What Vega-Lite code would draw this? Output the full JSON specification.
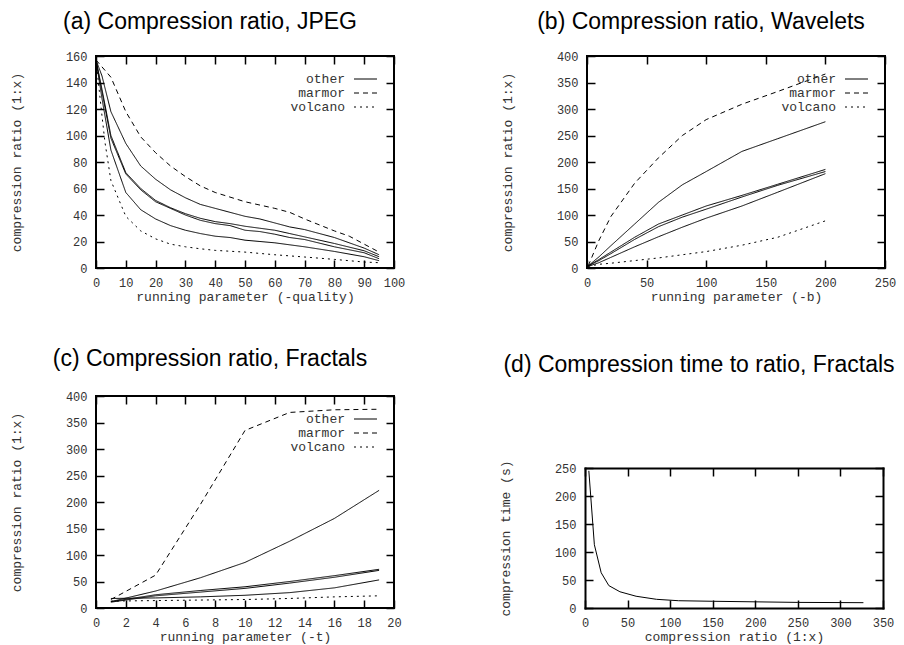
{
  "$schema": "https://vega.github.io/schema/vega-lite/v6.json",
  "background": "white",
  "padding": {"left": 9, "top": 10, "right": 0, "bottom": 0},
  "datasets": {
    "jpeg": [
      {"series": "m", "type": "marmor", "x": 0, "y": 157}, {"series": "m", "type": "marmor", "x": 5, "y": 144}, {"series": "m", "type": "marmor", "x": 10, "y": 118}, {"series": "m", "type": "marmor", "x": 15, "y": 99}, {"series": "m", "type": "marmor", "x": 20, "y": 87}, {"series": "m", "type": "marmor", "x": 25, "y": 77}, {"series": "m", "type": "marmor", "x": 30, "y": 69}, {"series": "m", "type": "marmor", "x": 35, "y": 62}, {"series": "m", "type": "marmor", "x": 40, "y": 57}, {"series": "m", "type": "marmor", "x": 50, "y": 50}, {"series": "m", "type": "marmor", "x": 60, "y": 45}, {"series": "m", "type": "marmor", "x": 65, "y": 42}, {"series": "m", "type": "marmor", "x": 70, "y": 37}, {"series": "m", "type": "marmor", "x": 80, "y": 28}, {"series": "m", "type": "marmor", "x": 85, "y": 24}, {"series": "m", "type": "marmor", "x": 90, "y": 18}, {"series": "m", "type": "marmor", "x": 95, "y": 12},
      {"series": "o1", "type": "other", "x": 0, "y": 157}, {"series": "o1", "type": "other", "x": 2, "y": 145}, {"series": "o1", "type": "other", "x": 5, "y": 118}, {"series": "o1", "type": "other", "x": 10, "y": 94}, {"series": "o1", "type": "other", "x": 15, "y": 77}, {"series": "o1", "type": "other", "x": 20, "y": 67}, {"series": "o1", "type": "other", "x": 25, "y": 59}, {"series": "o1", "type": "other", "x": 30, "y": 53}, {"series": "o1", "type": "other", "x": 35, "y": 48}, {"series": "o1", "type": "other", "x": 40, "y": 45}, {"series": "o1", "type": "other", "x": 50, "y": 39}, {"series": "o1", "type": "other", "x": 55, "y": 37}, {"series": "o1", "type": "other", "x": 60, "y": 34}, {"series": "o1", "type": "other", "x": 65, "y": 31}, {"series": "o1", "type": "other", "x": 70, "y": 29}, {"series": "o1", "type": "other", "x": 80, "y": 23}, {"series": "o1", "type": "other", "x": 90, "y": 15}, {"series": "o1", "type": "other", "x": 95, "y": 10},
      {"series": "o2", "type": "other", "x": 0, "y": 157}, {"series": "o2", "type": "other", "x": 2, "y": 135}, {"series": "o2", "type": "other", "x": 5, "y": 100}, {"series": "o2", "type": "other", "x": 10, "y": 72}, {"series": "o2", "type": "other", "x": 15, "y": 60}, {"series": "o2", "type": "other", "x": 20, "y": 51}, {"series": "o2", "type": "other", "x": 25, "y": 45.5}, {"series": "o2", "type": "other", "x": 30, "y": 41}, {"series": "o2", "type": "other", "x": 35, "y": 37.5}, {"series": "o2", "type": "other", "x": 40, "y": 35}, {"series": "o2", "type": "other", "x": 45, "y": 33.5}, {"series": "o2", "type": "other", "x": 50, "y": 31.5}, {"series": "o2", "type": "other", "x": 55, "y": 30}, {"series": "o2", "type": "other", "x": 60, "y": 28.5}, {"series": "o2", "type": "other", "x": 65, "y": 26}, {"series": "o2", "type": "other", "x": 70, "y": 23.5}, {"series": "o2", "type": "other", "x": 80, "y": 18.5}, {"series": "o2", "type": "other", "x": 90, "y": 13}, {"series": "o2", "type": "other", "x": 95, "y": 8.5},
      {"series": "o3", "type": "other", "x": 0, "y": 157}, {"series": "o3", "type": "other", "x": 2, "y": 133}, {"series": "o3", "type": "other", "x": 5, "y": 98}, {"series": "o3", "type": "other", "x": 10, "y": 71}, {"series": "o3", "type": "other", "x": 15, "y": 59}, {"series": "o3", "type": "other", "x": 20, "y": 50}, {"series": "o3", "type": "other", "x": 25, "y": 45}, {"series": "o3", "type": "other", "x": 30, "y": 40}, {"series": "o3", "type": "other", "x": 35, "y": 36}, {"series": "o3", "type": "other", "x": 40, "y": 33.5}, {"series": "o3", "type": "other", "x": 45, "y": 32}, {"series": "o3", "type": "other", "x": 50, "y": 28.5}, {"series": "o3", "type": "other", "x": 55, "y": 27.5}, {"series": "o3", "type": "other", "x": 60, "y": 25.5}, {"series": "o3", "type": "other", "x": 65, "y": 23}, {"series": "o3", "type": "other", "x": 70, "y": 21.5}, {"series": "o3", "type": "other", "x": 80, "y": 16}, {"series": "o3", "type": "other", "x": 90, "y": 11.5}, {"series": "o3", "type": "other", "x": 95, "y": 7},
      {"series": "o4", "type": "other", "x": 0, "y": 157}, {"series": "o4", "type": "other", "x": 2, "y": 128}, {"series": "o4", "type": "other", "x": 5, "y": 89}, {"series": "o4", "type": "other", "x": 10, "y": 57}, {"series": "o4", "type": "other", "x": 15, "y": 44}, {"series": "o4", "type": "other", "x": 20, "y": 37}, {"series": "o4", "type": "other", "x": 25, "y": 32}, {"series": "o4", "type": "other", "x": 30, "y": 28.5}, {"series": "o4", "type": "other", "x": 35, "y": 26}, {"series": "o4", "type": "other", "x": 40, "y": 24}, {"series": "o4", "type": "other", "x": 45, "y": 23}, {"series": "o4", "type": "other", "x": 50, "y": 21}, {"series": "o4", "type": "other", "x": 55, "y": 20}, {"series": "o4", "type": "other", "x": 60, "y": 19}, {"series": "o4", "type": "other", "x": 65, "y": 17.5}, {"series": "o4", "type": "other", "x": 70, "y": 16}, {"series": "o4", "type": "other", "x": 80, "y": 12.5}, {"series": "o4", "type": "other", "x": 90, "y": 8.5}, {"series": "o4", "type": "other", "x": 95, "y": 5.5},
      {"series": "v", "type": "volcano", "x": 0, "y": 157}, {"series": "v", "type": "volcano", "x": 2, "y": 115}, {"series": "v", "type": "volcano", "x": 3, "y": 95}, {"series": "v", "type": "volcano", "x": 5, "y": 66}, {"series": "v", "type": "volcano", "x": 10, "y": 39}, {"series": "v", "type": "volcano", "x": 15, "y": 28}, {"series": "v", "type": "volcano", "x": 20, "y": 22}, {"series": "v", "type": "volcano", "x": 25, "y": 18}, {"series": "v", "type": "volcano", "x": 30, "y": 16}, {"series": "v", "type": "volcano", "x": 35, "y": 14.5}, {"series": "v", "type": "volcano", "x": 40, "y": 13.3}, {"series": "v", "type": "volcano", "x": 50, "y": 12}, {"series": "v", "type": "volcano", "x": 60, "y": 10}, {"series": "v", "type": "volcano", "x": 70, "y": 8.3}, {"series": "v", "type": "volcano", "x": 80, "y": 6.5}, {"series": "v", "type": "volcano", "x": 90, "y": 4.5}, {"series": "v", "type": "volcano", "x": 95, "y": 4}
    ],
    "wavelets": [
      {"series": "m", "type": "marmor", "x": 1, "y": 4}, {"series": "m", "type": "marmor", "x": 10, "y": 52}, {"series": "m", "type": "marmor", "x": 20, "y": 97}, {"series": "m", "type": "marmor", "x": 40, "y": 160}, {"series": "m", "type": "marmor", "x": 60, "y": 208}, {"series": "m", "type": "marmor", "x": 80, "y": 250}, {"series": "m", "type": "marmor", "x": 100, "y": 280}, {"series": "m", "type": "marmor", "x": 130, "y": 309}, {"series": "m", "type": "marmor", "x": 160, "y": 333}, {"series": "m", "type": "marmor", "x": 200, "y": 366},
      {"series": "o1", "type": "other", "x": 1, "y": 4}, {"series": "o1", "type": "other", "x": 10, "y": 21}, {"series": "o1", "type": "other", "x": 20, "y": 42}, {"series": "o1", "type": "other", "x": 40, "y": 83}, {"series": "o1", "type": "other", "x": 60, "y": 124}, {"series": "o1", "type": "other", "x": 80, "y": 157}, {"series": "o1", "type": "other", "x": 100, "y": 182}, {"series": "o1", "type": "other", "x": 130, "y": 220}, {"series": "o1", "type": "other", "x": 160, "y": 244}, {"series": "o1", "type": "other", "x": 200, "y": 276},
      {"series": "o2", "type": "other", "x": 1, "y": 4}, {"series": "o2", "type": "other", "x": 10, "y": 16}, {"series": "o2", "type": "other", "x": 20, "y": 30}, {"series": "o2", "type": "other", "x": 40, "y": 58}, {"series": "o2", "type": "other", "x": 60, "y": 83}, {"series": "o2", "type": "other", "x": 80, "y": 100}, {"series": "o2", "type": "other", "x": 100, "y": 117}, {"series": "o2", "type": "other", "x": 130, "y": 137}, {"series": "o2", "type": "other", "x": 160, "y": 158}, {"series": "o2", "type": "other", "x": 200, "y": 186},
      {"series": "o3", "type": "other", "x": 1, "y": 4}, {"series": "o3", "type": "other", "x": 10, "y": 14}, {"series": "o3", "type": "other", "x": 20, "y": 27}, {"series": "o3", "type": "other", "x": 40, "y": 54}, {"series": "o3", "type": "other", "x": 60, "y": 78}, {"series": "o3", "type": "other", "x": 80, "y": 96}, {"series": "o3", "type": "other", "x": 100, "y": 111}, {"series": "o3", "type": "other", "x": 130, "y": 134}, {"series": "o3", "type": "other", "x": 160, "y": 156}, {"series": "o3", "type": "other", "x": 200, "y": 182},
      {"series": "o4", "type": "other", "x": 1, "y": 3}, {"series": "o4", "type": "other", "x": 10, "y": 10}, {"series": "o4", "type": "other", "x": 20, "y": 20}, {"series": "o4", "type": "other", "x": 40, "y": 40}, {"series": "o4", "type": "other", "x": 60, "y": 59}, {"series": "o4", "type": "other", "x": 80, "y": 77}, {"series": "o4", "type": "other", "x": 100, "y": 94}, {"series": "o4", "type": "other", "x": 130, "y": 117}, {"series": "o4", "type": "other", "x": 160, "y": 143}, {"series": "o4", "type": "other", "x": 200, "y": 178},
      {"series": "v", "type": "volcano", "x": 1, "y": 3}, {"series": "v", "type": "volcano", "x": 10, "y": 7}, {"series": "v", "type": "volcano", "x": 20, "y": 9}, {"series": "v", "type": "volcano", "x": 40, "y": 14}, {"series": "v", "type": "volcano", "x": 60, "y": 19}, {"series": "v", "type": "volcano", "x": 80, "y": 25}, {"series": "v", "type": "volcano", "x": 100, "y": 31}, {"series": "v", "type": "volcano", "x": 130, "y": 43}, {"series": "v", "type": "volcano", "x": 160, "y": 58}, {"series": "v", "type": "volcano", "x": 200, "y": 89}
    ],
    "fractals": [
      {"series": "m", "type": "marmor", "x": 1, "y": 16}, {"series": "m", "type": "marmor", "x": 4, "y": 62}, {"series": "m", "type": "marmor", "x": 7, "y": 195}, {"series": "m", "type": "marmor", "x": 10, "y": 335}, {"series": "m", "type": "marmor", "x": 13, "y": 369}, {"series": "m", "type": "marmor", "x": 16, "y": 374}, {"series": "m", "type": "marmor", "x": 19, "y": 375},
      {"series": "o1", "type": "other", "x": 1, "y": 12}, {"series": "o1", "type": "other", "x": 4, "y": 32}, {"series": "o1", "type": "other", "x": 7, "y": 57}, {"series": "o1", "type": "other", "x": 10, "y": 86}, {"series": "o1", "type": "other", "x": 13, "y": 126}, {"series": "o1", "type": "other", "x": 16, "y": 169}, {"series": "o1", "type": "other", "x": 19, "y": 222},
      {"series": "o2", "type": "other", "x": 1, "y": 12}, {"series": "o2", "type": "other", "x": 4, "y": 25}, {"series": "o2", "type": "other", "x": 7, "y": 33}, {"series": "o2", "type": "other", "x": 10, "y": 40}, {"series": "o2", "type": "other", "x": 13, "y": 50}, {"series": "o2", "type": "other", "x": 16, "y": 61}, {"series": "o2", "type": "other", "x": 19, "y": 73},
      {"series": "o3", "type": "other", "x": 1, "y": 11}, {"series": "o3", "type": "other", "x": 4, "y": 23}, {"series": "o3", "type": "other", "x": 7, "y": 30}, {"series": "o3", "type": "other", "x": 10, "y": 37}, {"series": "o3", "type": "other", "x": 13, "y": 47}, {"series": "o3", "type": "other", "x": 16, "y": 58}, {"series": "o3", "type": "other", "x": 19, "y": 71},
      {"series": "o4", "type": "other", "x": 1, "y": 18}, {"series": "o4", "type": "other", "x": 4, "y": 19}, {"series": "o4", "type": "other", "x": 7, "y": 21}, {"series": "o4", "type": "other", "x": 10, "y": 24}, {"series": "o4", "type": "other", "x": 13, "y": 29}, {"series": "o4", "type": "other", "x": 16, "y": 38}, {"series": "o4", "type": "other", "x": 19, "y": 53},
      {"series": "v", "type": "volcano", "x": 1, "y": 13}, {"series": "v", "type": "volcano", "x": 4, "y": 14}, {"series": "v", "type": "volcano", "x": 7, "y": 15}, {"series": "v", "type": "volcano", "x": 10, "y": 16}, {"series": "v", "type": "volcano", "x": 13, "y": 18}, {"series": "v", "type": "volcano", "x": 16, "y": 21}, {"series": "v", "type": "volcano", "x": 19, "y": 23}
    ],
    "time": [
      {"x": 4.5, "y": 245}, {"x": 11, "y": 113}, {"x": 19, "y": 63}, {"x": 28, "y": 40}, {"x": 41, "y": 29}, {"x": 60, "y": 21}, {"x": 84, "y": 15.5}, {"x": 110, "y": 13}, {"x": 150, "y": 12}, {"x": 200, "y": 11}, {"x": 250, "y": 10}, {"x": 327, "y": 9.5}
    ]
  },
  "vconcat": [
    {
      "hconcat": [
        {
          "width": 298, "height": 212,
          "title": {"text": "(a) Compression ratio, JPEG", "dx": -35, "offset": 16},
          "data": {"name": "jpeg"},
          "layer": [
            {
              "mark": {"type": "line", "color": "black", "strokeWidth": 1},
              "encoding": {
                "x": {"field": "x", "type": "quantitative", "scale": {"domain": [0, 100], "nice": false}, "axis": {"values": [0, 10, 20, 30, 40, 50, 60, 70, 80, 90, 100], "title": "running parameter (-quality)"}},
                "y": {"field": "y", "type": "quantitative", "scale": {"domain": [0, 160], "nice": false}, "axis": {"values": [0, 20, 40, 60, 80, 100, 120, 140, 160], "title": "compression ratio (1:x)"}},
                "detail": {"field": "series"},
                "strokeDash": {"field": "type", "type": "nominal", "scale": {"domain": ["other", "marmor", "volcano"], "range": [[1, 0], [5, 4], [2, 4]]}, "legend": {"legendX": 263, "legendY": 16.5, "title": null}}
              }
            },
            {
              "mark": {"type": "line", "opacity": 0},
              "encoding": {
                "x": {"field": "x", "type": "quantitative", "axis": {"orient": "top", "labels": false, "title": null, "values": [0, 10, 20, 30, 40, 50, 60, 70, 80, 90, 100]}},
                "y": {"field": "y", "type": "quantitative", "axis": {"orient": "right", "labels": false, "title": null, "values": [0, 20, 40, 60, 80, 100, 120, 140, 160]}},
                "detail": {"field": "series"}
              }
            }
          ],
          "resolve": {"axis": {"x": "independent", "y": "independent"}}
        },
        {
          "width": 298, "height": 212,
          "title": {"text": "(b) Compression ratio, Wavelets", "dx": -35, "offset": 16},
          "data": {"name": "wavelets"},
          "layer": [
            {
              "mark": {"type": "line", "color": "black", "strokeWidth": 1},
              "encoding": {
                "x": {"field": "x", "type": "quantitative", "scale": {"domain": [0, 250], "nice": false}, "axis": {"values": [0, 50, 100, 150, 200, 250], "title": "running parameter (-b)"}},
                "y": {"field": "y", "type": "quantitative", "scale": {"domain": [0, 400], "nice": false}, "axis": {"values": [0, 50, 100, 150, 200, 250, 300, 350, 400], "title": "compression ratio (1:x)"}},
                "detail": {"field": "series"},
                "strokeDash": {"field": "type", "type": "nominal", "scale": {"domain": ["other", "marmor", "volcano"], "range": [[1, 0], [5, 4], [2, 4]]}, "legend": {"legendX": 263, "legendY": 16.5, "title": null}}
              }
            },
            {
              "mark": {"type": "line", "opacity": 0},
              "encoding": {
                "x": {"field": "x", "type": "quantitative", "axis": {"orient": "top", "labels": false, "title": null, "values": [0, 50, 100, 150, 200, 250]}},
                "y": {"field": "y", "type": "quantitative", "axis": {"orient": "right", "labels": false, "title": null, "values": [0, 50, 100, 150, 200, 250, 300, 350, 400]}},
                "detail": {"field": "series"}
              }
            }
          ],
          "resolve": {"axis": {"x": "independent", "y": "independent"}}
        }
      ],
      "spacing": 94,
      "resolve": {"scale": {"strokeDash": "independent"}, "legend": {"strokeDash": "independent"}}
    },
    {
      "hconcat": [
        {
          "width": 298, "height": 212,
          "title": {"text": "(c) Compression ratio, Fractals", "dx": -35, "offset": 19},
          "data": {"name": "fractals"},
          "layer": [
            {
              "mark": {"type": "line", "color": "black", "strokeWidth": 1},
              "encoding": {
                "x": {"field": "x", "type": "quantitative", "scale": {"domain": [0, 20], "nice": false}, "axis": {"values": [0, 2, 4, 6, 8, 10, 12, 14, 16, 18, 20], "title": "running parameter (-t)"}},
                "y": {"field": "y", "type": "quantitative", "scale": {"domain": [0, 400], "nice": false}, "axis": {"values": [0, 50, 100, 150, 200, 250, 300, 350, 400], "title": "compression ratio (1:x)"}},
                "detail": {"field": "series"},
                "strokeDash": {"field": "type", "type": "nominal", "scale": {"domain": ["other", "marmor", "volcano"], "range": [[1, 0], [5, 4], [2, 4]]}, "legend": {"legendX": 263, "legendY": 16.5, "title": null}}
              }
            },
            {
              "mark": {"type": "line", "opacity": 0},
              "encoding": {
                "x": {"field": "x", "type": "quantitative", "axis": {"orient": "top", "labels": false, "title": null, "values": [0, 2, 4, 6, 8, 10, 12, 14, 16, 18, 20]}},
                "y": {"field": "y", "type": "quantitative", "axis": {"orient": "right", "labels": false, "title": null, "values": [0, 50, 100, 150, 200, 250, 300, 350, 400]}},
                "detail": {"field": "series"}
              }
            }
          ],
          "resolve": {"axis": {"x": "independent", "y": "independent"}}
        },
        {
          "width": 298, "height": 212,
          "view": {"stroke": null},
          "title": {"text": "(d) Compression time to ratio, Fractals", "dx": -35, "offset": 19},
          "data": {"name": "time"},
          "layer": [
            {
              "mark": {"type": "line", "color": "black", "strokeWidth": 1},
              "encoding": {
                "x": {"field": "x", "type": "quantitative", "scale": {"domain": [0, 350], "nice": false}, "axis": {"values": [0, 50, 100, 150, 200, 250, 300, 350], "title": "compression ratio (1:x)", "domain": true, "domainColor": "black", "domainWidth": 2, "domainCap": "square"}},
                "y": {"field": "y", "type": "quantitative", "scale": {"domain": [0, 250], "nice": false, "range": [212, 72]}, "axis": {"values": [0, 50, 100, 150, 200, 250], "title": "compression time (s)", "domain": true, "domainColor": "black", "domainWidth": 2, "domainCap": "square"}}
              }
            },
            {
              "mark": {"type": "line", "opacity": 0},
              "encoding": {
                "x": {"field": "x", "type": "quantitative", "axis": {"orient": "top", "offset": -72, "labels": false, "title": null, "values": [0, 50, 100, 150, 200, 250, 300, 350], "domain": true, "domainColor": "black", "domainWidth": 2, "domainCap": "square"}},
                "y": {"field": "y", "type": "quantitative", "axis": {"orient": "right", "labels": false, "title": null, "values": [0, 50, 100, 150, 200, 250], "domain": true, "domainColor": "black", "domainWidth": 2, "domainCap": "square"}}
              }
            }
          ],
          "resolve": {"axis": {"x": "independent", "y": "independent"}}
        }
      ],
      "spacing": 96,
      "resolve": {"scale": {"strokeDash": "independent"}, "legend": {"strokeDash": "independent"}}
    }
  ],
  "spacing": 43,
  "resolve": {"scale": {"strokeDash": "independent"}, "legend": {"strokeDash": "independent"}},
  "config": {
    "view": {"stroke": "black", "strokeWidth": 2},
    "axis": {
      "domain": false, "grid": false,
      "tickColor": "black", "tickSize": -8, "tickWidth": 1.5,
      "labelFlush": false, "labelOverlap": false,
      "labelFont": "Liberation Mono", "labelFontSize": 12, "labelColor": "#333",
      "titleFont": "Liberation Mono", "titleFontSize": 13, "titleFontWeight": "normal", "titleColor": "#333"
    },
    "axisY": {"titlePadding": 42, "labelPadding": 17},
    "axisX": {"titlePadding": 2, "labelPadding": 17},
    "title": {"font": "Liberation Sans", "fontSize": 23, "fontWeight": "normal", "color": "black", "anchor": "middle", "frame": "group"},
    "legend": {
      "orient": "none", "padding": 0, "offset": 0,
      "labelFont": "Liberation Mono", "labelFontSize": 13, "labelColor": "#333",
      "labelAlign": "right", "labelOffset": -27,
      "symbolType": "M-2,0H2", "symbolSize": 132, "symbolStrokeWidth": 1, "symbolStrokeColor": "black",
      "rowPadding": 0
    }
  }
}
